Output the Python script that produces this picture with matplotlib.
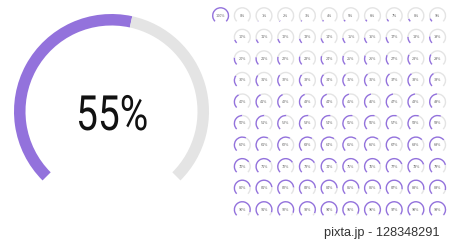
import matplotlib
matplotlib.use("Agg")
import matplotlib.pyplot as plt
from matplotlib.patches import Wedge
from matplotlib.patheffects import AbstractPathEffect
from matplotlib.transforms import Affine2D

# ---- data ----
main_value = 55
main_label = "55%"
grid_values = [100] + list(range(0, 100))
grid_labels = [f"{v}%" for v in grid_values]
watermark = "pixta.jp - 128348291"

PURPLE = "#9372dc"
GREY = "#e4e4e4"

W, H = 450, 244
fig = plt.figure(figsize=(W / 100, H / 100), dpi=100)
ax = fig.add_axes([0, 0, 1, 1])
ax.set_xlim(0, W)
ax.set_ylim(H, 0)
ax.set_aspect("equal")
ax.axis("off")


class HScale(AbstractPathEffect):
    """Condense text horizontally around a display x position."""

    def __init__(self, sx, cx):
        super().__init__()
        self.sx = sx
        self.cx = cx

    def draw_path(self, renderer, gc, tpath, affine, rgbFace=None):
        t = affine + Affine2D().translate(-self.cx, 0).scale(self.sx, 1).translate(self.cx, 0)
        renderer.draw_path(gc, tpath, t, rgbFace)


def gauge(cx, cy, r, width, value, gap=0.0):
    start = 225.0
    end = 225.0 - 270.0 * value / 100.0
    if value > 0:
        ax.add_patch(Wedge((cx, cy), r, -start, -end + (gap if value < 100 else 0),
                           width=width, facecolor=PURPLE, edgecolor="none"))
    if value < 100:
        ax.add_patch(Wedge((cx, cy), r, -end + (gap if value > 0 else 0), 45,
                           width=width, facecolor=GREY, edgecolor="none"))


# big gauge
bcx, bcy = 111.5, 111.5
gauge(bcx, bcy, 97.5, 11.5, main_value, gap=-1.2)
tx = 112.2
disp_cx = ax.transData.transform((tx, bcy))[0]
ax.text(tx, 130, main_label, ha="center", va="baseline", fontsize=35,
        family=["Roboto", "DejaVu Sans"], fontweight="normal",
        color="#111111", path_effects=[HScale(0.8, disp_cx)])

# small gauges grid
x0, dx = 242.3, 21.7
y0, dy = 15.7, 21.55
for i, (v, lab) in enumerate(zip(grid_values, grid_labels)):
    if i == 0:
        col, row = -1, 0
    else:
        col, row = (v % 10), v // 10
    cx = x0 + col * dx
    cy = y0 + row * dy
    gauge(cx, cy, 8.6, 1.4, v)
    ax.text(cx, cy, lab, ha="center", va="center", fontsize=2.4,
            color="#666666")

ax.text(439, 236, watermark, ha="right", va="baseline", fontsize=9.2,
        family="Liberation Sans", color="#333333")

fig.savefig("out.png", dpi=100)
